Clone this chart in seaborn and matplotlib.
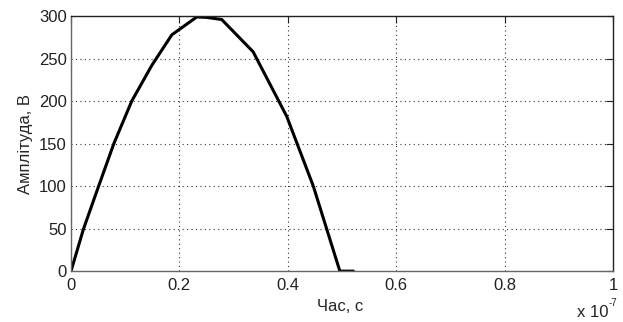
import pandas as pd
import matplotlib
matplotlib.use('Agg')
import matplotlib.pyplot as plt
import seaborn as sns
from matplotlib.ticker import FuncFormatter

# pulse shape (time in units of 1e-7 s, amplitude in V)
time_scaled = [0, 0.0227, 0.0504, 0.079, 0.112, 0.149, 0.186, 0.232, 0.25, 0.278,
               0.336, 0.398, 0.447, 0.496, 0.521]
amplitude = [0, 49, 99, 150, 200, 242, 278, 299, 298.5, 296,
             258, 182, 100, 0, 0]
x_ticks = [0, 0.2, 0.4, 0.6, 0.8, 1.0]
y_ticks = [0, 50, 100, 150, 200, 250, 300]

df = pd.DataFrame({'t': [v * 1e-7 for v in time_scaled], 'u': amplitude})

sns.set_style('white')
plt.rcParams['font.family'] = ['Liberation Sans', 'DejaVu Sans']
plt.rcParams['font.size'] = 12

fig = plt.figure(figsize=(6.23, 3.22), dpi=100)
ax = fig.add_axes([0.114, 0.158, 0.870, 0.792])

sns.lineplot(data=df, x='t', y='u', ax=ax, color='black', linewidth=2.2,
             sort=False, estimator=None)

ax.set_xlim(0, 1e-7)
ax.set_ylim(0, 300)
ax.set_xticks([v * 1e-7 for v in x_ticks])
ax.set_yticks(y_ticks)
ax.xaxis.set_major_formatter(FuncFormatter(lambda v, _: f'{v / 1e-7:g}'))
ax.grid(True, color='#333333', linestyle=(0, (1, 3)), linewidth=0.8)
ax.tick_params(direction='in', length=5, colors='#222222', labelsize=12,
               top=True, right=True, labeltop=False, labelright=False)
ax.tick_params(axis='x', pad=5)
ax.tick_params(axis='y', pad=3)
for side, s in ax.spines.items():
    s.set_color('#666666' if side in ('left', 'bottom') else '#222222')
    s.set_linewidth(1.0)

ax.set_xlabel('Час, с', fontsize=12)
ax.xaxis.set_label_coords(0.496, -0.108, transform=ax.transAxes)
ax.xaxis.label.set_va('top')
ax.set_ylabel('Амплітуда, В', fontsize=12, labelpad=4)

# MATLAB-style exponent label under the right end of the x axis
fig.text(0.977, 0.014, 'x 10', ha='right', va='baseline', fontsize=12)
fig.text(0.977, 0.050, '-7', ha='left', va='baseline', fontsize=7)

plt.savefig('out.png', dpi=100)
